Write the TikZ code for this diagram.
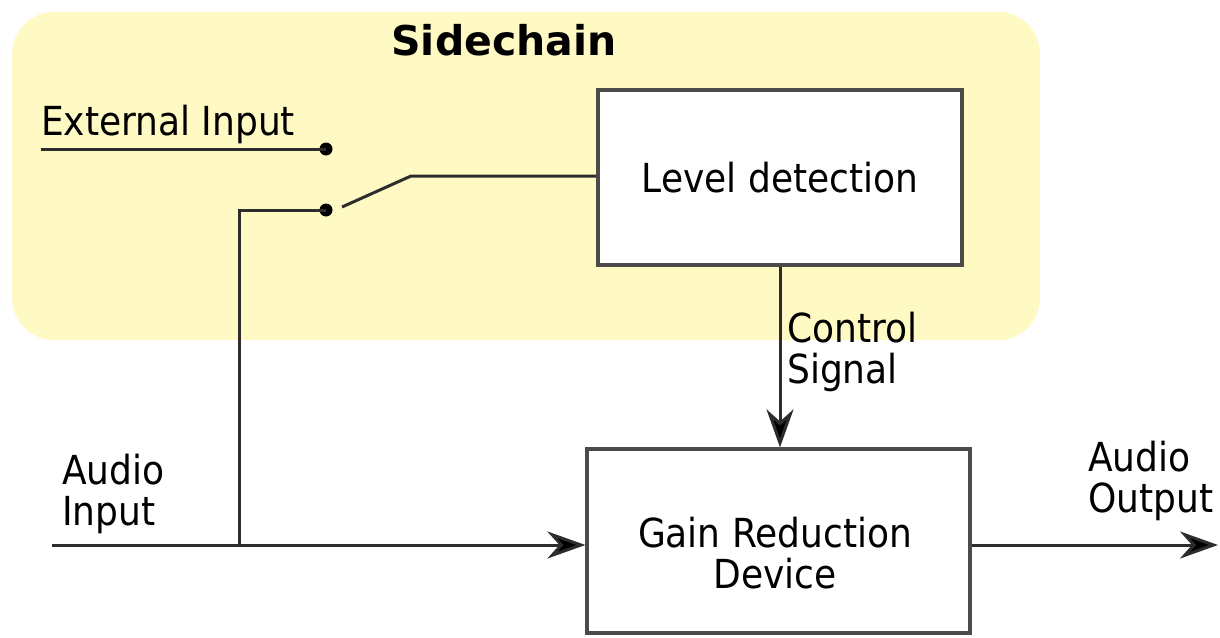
\documentclass[tikz,border=0pt]{standalone}
\usepackage{fontspec}
\setmainfont{DejaVu Sans Condensed}
\newfontfamily\titlefont{DejaVu Sans}
\usetikzlibrary{arrows.meta}
\definecolor{sideyellow}{RGB}{255,249,196}
\definecolor{boxgray}{RGB}{75,75,75}
\definecolor{wiregray}{RGB}{45,45,45}
\begin{document}
\begin{tikzpicture}[x=1pt,y=-1pt,
  lbl/.style={font=\fontsize{40}{41}\selectfont, inner sep=0pt, align=left, text=black},
  titlelbl/.style={font=\titlefont\bfseries\fontsize{41}{44}\selectfont, inner sep=0pt, text=black},
  blk/.style={draw=boxgray, line width=3.2pt, fill=white, inner sep=0pt},
  wire/.style={draw=wiregray, line width=3pt},
  arr/.style={wire, -{Stealth[length=38pt,width=27pt,inset=12pt,fill=black]}},
  swdot/.style={circle, fill=black, inner sep=0pt, minimum size=13pt}
]
\useasboundingbox (0,0) rectangle (1220,637);
% sidechain area
\path[fill=sideyellow, rounded corners=42pt] (12,12) rectangle (1040,340);
\node[titlelbl, anchor=base] (title) at (504,55) {Sidechain};
% blocks
\node[blk, minimum width=364pt, minimum height=175pt, font=\fontsize{40}{41}\selectfont] (level) at (780,177.5) {Level detection};
\node[blk, minimum width=383pt, minimum height=184pt] (gain) at (778.5,541) {};
\node[lbl, align=center, anchor=base] (gaintxt) at (775,588) {Gain Reduction\\Device};
% labels
\node[lbl, anchor=base west] (extlbl) at (41,135) {External Input};
\node[lbl, anchor=base west] (ainlbl) at (62,525) {Audio\\Input};
\node[lbl, anchor=base west] (ctllbl) at (787,383) {Control\\Signal};
\node[lbl, anchor=base west] (aoutlbl) at (1088,512) {Audio\\Output};
% switch contacts
\node[swdot] (d1) at (326,149) {};
\node[swdot] (d2) at (326,210) {};
\coordinate (ext) at (41,149);
\coordinate (ain) at (52,545);
\coordinate (jn) at (239,545);
\coordinate (sw) at (342,207);
\coordinate (bend) at (411,176);
\coordinate (aout) at (1218,545);
% connectors
\draw[wire] (ext) -- (d1.center);
\draw[wire] (jn) |- (d2.center);
\draw[wire] (sw) -- (bend) -- (bend -| level.west);
\draw[arr] (ain) -- (ain -| gain.west);
\draw[arr] (level.south) -- (level.south |- gain.north);
\draw[arr] (aout -| gain.east) -- (aout);
\end{tikzpicture}
\end{document}
